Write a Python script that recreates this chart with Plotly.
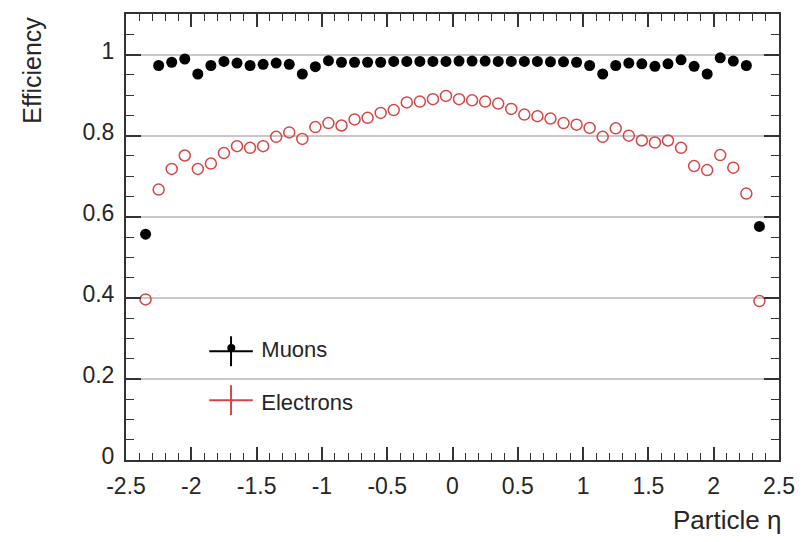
import plotly.graph_objects as go

eta = [round(-2.35 + 0.1 * i, 2) for i in range(48)]

muon_eff = [0.557, 0.973, 0.981, 0.989, 0.952, 0.973, 0.983, 0.979, 0.973, 0.976,
            0.979, 0.976, 0.952, 0.970, 0.985, 0.981, 0.981, 0.981, 0.981, 0.983,
            0.983, 0.983, 0.983, 0.983, 0.984, 0.984, 0.984, 0.983, 0.983, 0.983,
            0.983, 0.982, 0.982, 0.981, 0.973, 0.952, 0.973, 0.979, 0.977, 0.971,
            0.977, 0.987, 0.971, 0.952, 0.992, 0.984, 0.973, 0.576]

electron_eff = [0.396, 0.667, 0.718, 0.751, 0.718, 0.731, 0.757, 0.774, 0.770, 0.774,
                0.797, 0.808, 0.792, 0.821, 0.831, 0.825, 0.840, 0.844, 0.856, 0.863,
                0.882, 0.884, 0.890, 0.898, 0.890, 0.887, 0.884, 0.879, 0.866, 0.852,
                0.848, 0.842, 0.831, 0.827, 0.819, 0.797, 0.818, 0.800, 0.788, 0.783,
                0.788, 0.770, 0.725, 0.715, 0.752, 0.721, 0.657, 0.392]

x_ticks = [-2.5, -2, -1.5, -1, -0.5, 0, 0.5, 1, 1.5, 2, 2.5]
x_ticklabels = ["-2.5", "-2", "-1.5", "-1", "-0.5", "0", "0.5", "1", "1.5", "2", "2.5"]
y_ticks = [0, 0.2, 0.4, 0.6, 0.8, 1]
y_ticklabels = ["0", "0.2", "0.4", "0.6", "0.8", "1"]

RED = "rgb(215,70,70)"
FONT = "Liberation Sans, Arial, Helvetica, sans-serif"
TXT = "#262626"

fig = go.Figure()

fig.add_trace(go.Scatter(x=eta, y=muon_eff, mode="markers", showlegend=False,
                         marker=dict(symbol="circle", size=11, color="black")))
fig.add_trace(go.Scatter(x=eta, y=electron_eff, mode="markers", showlegend=False,
                         marker=dict(symbol="circle-open", size=11, color=RED,
                                     line=dict(width=1.5, color=RED))))

# legend entries (the error-bar crosses are drawn as shapes)
fig.add_trace(go.Scatter(x=[None], y=[None], mode="markers", name="Muons",
                         legendgroup="m",
                         marker=dict(symbol="circle", size=8, color="black")))
fig.add_trace(go.Scatter(x=[None], y=[None], mode="markers", name="Electrons",
                         legendgroup="e",
                         marker=dict(symbol="circle", size=1, color=RED)))

W0, W1 = 126, 785
H0, H1 = 13, 460
def px(xp):
    return (xp - W0) / (W1 - W0)
def py(yp):
    return (H1 - yp) / (H1 - H0)

leg_left = 202
cx = 232
shapes = [
    dict(type="rect", xref="paper", yref="paper", x0=px(200), x1=px(452),
         y0=py(425), y1=py(322), fillcolor="white", line=dict(width=0), layer="below"),
]
for yc, col in [(351, "black"), (400, RED)]:
    shapes.append(dict(type="line", xref="paper", yref="paper", x0=px(cx), x1=px(cx),
                       y0=py(yc - 15), y1=py(yc + 15), line=dict(color=col, width=2)))
    shapes.append(dict(type="line", xref="paper", yref="paper", x0=px(cx - 22), x1=px(cx + 22),
                       y0=py(yc), y1=py(yc), line=dict(color=col, width=2)))

axis_common = dict(
    showline=True, linecolor="#333", linewidth=2, mirror="allticks",
    ticks="inside", tickcolor="#333", tickwidth=1.5,
    tickfont=dict(family=FONT, size=23, color=TXT),
    zeroline=False,
)

fig.update_xaxes(range=[-2.5, 2.5], tickvals=x_ticks, ticktext=x_ticklabels,
                 ticklen=13, showgrid=False, ticklabelstandoff=4,
                 minor=dict(dtick=0.1, ticks="inside", ticklen=7, tickcolor="#333",
                            tickwidth=1.2, showgrid=False),
                 **axis_common)
fig.update_yaxes(range=[0, 1.1], tickvals=y_ticks, ticktext=y_ticklabels,
                 ticklen=15, showgrid=True, gridcolor="#c8c8c8", gridwidth=2,
                 ticklabelstandoff=5, ticklabelshift=-4,
                 minor=dict(dtick=0.05, ticks="inside", ticklen=8, tickcolor="#333",
                            tickwidth=1.2, showgrid=False),
                 **axis_common)

fig.update_layout(
    width=807, height=542,
    margin=dict(l=W0, r=807 - W1, t=H0, b=542 - H1),
    paper_bgcolor="white", plot_bgcolor="white",
    font=dict(family=FONT, color=TXT),
    shapes=shapes,
    legend=dict(x=px(leg_left), y=py(327), xanchor="left", yanchor="top",
                bgcolor="rgba(0,0,0,0)", font=dict(family=FONT, size=22, color=TXT),
                tracegroupgap=22, itemwidth=50),
    annotations=[
        dict(text="Efficiency", xref="paper", yref="paper", x=px(31), y=py(69),
             xanchor="center", yanchor="middle", textangle=-90, showarrow=False,
             font=dict(family=FONT, size=25, color=TXT)),
        dict(text="Particle η", xref="paper", yref="paper", x=px(789), y=py(520),
             xanchor="right", yanchor="middle", showarrow=False,
             font=dict(family=FONT, size=26, color=TXT)),
    ],
)

fig.write_html("out.html")
